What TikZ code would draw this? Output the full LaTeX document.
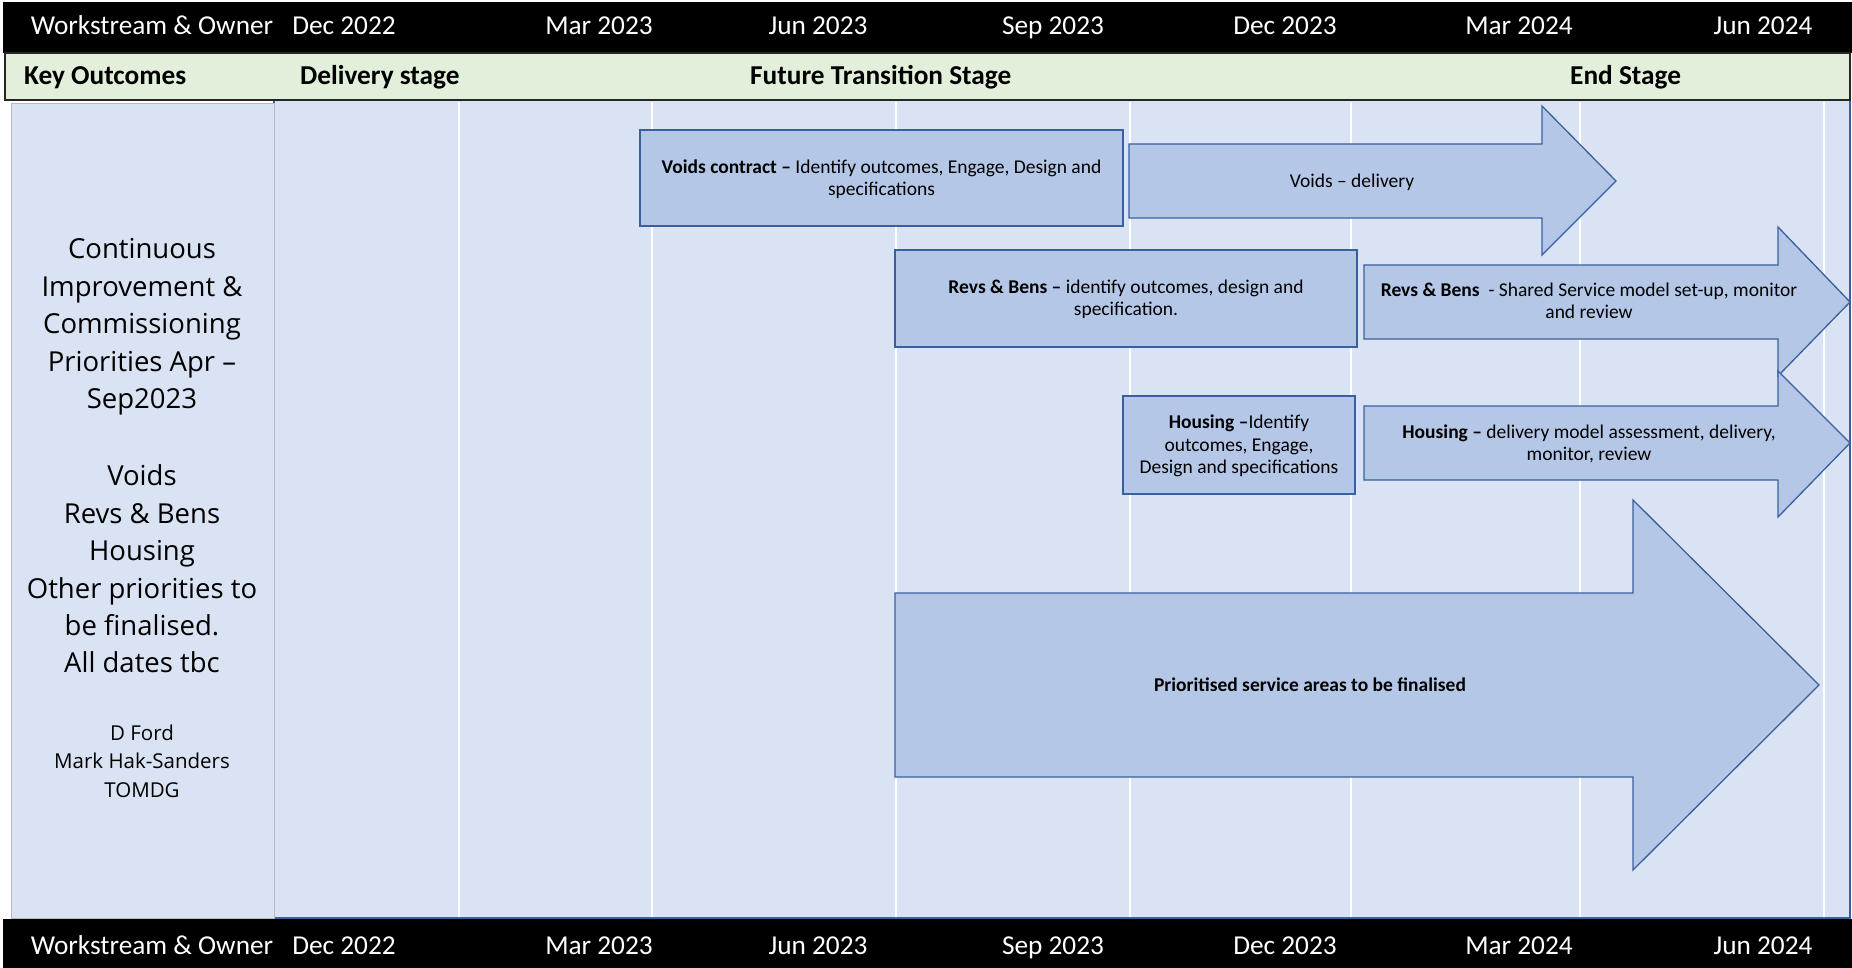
\documentclass[tikz,border=0pt]{standalone}
\usepackage{fontspec}
\setmainfont{Carlito}
\newfontfamily\osans{Open Sans}
\definecolor{bgblue}{HTML}{DAE3F3}
\definecolor{boxfill}{HTML}{B4C7E7}
\definecolor{boxline}{HTML}{3A5F9E}
\definecolor{greenbar}{HTML}{E2EFDA}
\begin{document}
\begin{tikzpicture}[x=1pt,y=-1pt,
  boxst/.style={draw=boxline,fill=boxfill,line width=1.3pt,inner sep=0pt},
  arrst/.style={draw=boxline,fill=boxfill,line width=1.3pt,line join=miter},
  lbl/.style={font=\fontsize{19.5}{22.5}\selectfont,align=center,text=black},
  hdr/.style={font=\fontsize{27.3}{30}\selectfont,text=white,anchor=base},
  stagelbl/.style={font=\bfseries\fontsize{27.3}{30}\selectfont,anchor=base west,inner sep=0pt},
  gridln/.style={white,line width=1.8pt},
  leftbig/.style={font=\osans\fontsize{27.5}{37.4}\selectfont,align=center},
  leftsmall/.style={font=\osans\fontsize{20.5}{28.5}\selectfont,align=center},
]
\useasboundingbox (0,0) rectangle (1852,968);
\fill[white] (0,0) rectangle (1852,968);
% top bar
\fill[black] (3,2) rectangle (1852,53);
% green bar
\draw[fill=greenbar,draw=black!85,line width=1.6pt] (5,53) rectangle (1850,100);
% main area
\fill[bgblue] (274,101) rectangle (1850,919);
\foreach \gx in {459,652,896,1130,1351,1580,1824}
  \draw[gridln] (\gx,102) -- (\gx,918);
\draw[boxline,line width=1.5pt] (274,101) -- (274,918) -- (1850,918) -- (1850,101);
% left panel
\draw[fill=bgblue,draw=gray!55,line width=1pt] (11,104) rectangle (274,918);
% bottom bar
\fill[black] (3,919) rectangle (1852,968);

% header labels
\foreach \nm/\hx/\txt in {a/152/Workstream \& Owner,b/344/Dec 2022,c/599/Mar 2023,d/818/Jun 2023,e/1053/Sep 2023,f/1285/Dec 2023,g/1519/Mar 2024,h/1763/Jun 2024}{
  \node[hdr] (top\nm) at (\hx,35) {\txt};
  \node[hdr] (bot\nm) at (\hx,954) {\txt};
}
% stage labels
\node[stagelbl] (keyout) at (24,85) {Key Outcomes};
\node[stagelbl] (delst) at (300,85) {Delivery stage};
\node[stagelbl] (futst) at (750,85) {Future Transition Stage};
\node[stagelbl] (endst) at (1570,85) {End Stage};

% left panel text
\node[leftbig] (lp1) at (142,327) {Continuous\\Improvement \&\\Commissioning\\Priorities Apr –\\Sep2023};
\node[leftbig] (lp2) at (142,569) {Voids\\Revs \& Bens\\Housing\\Other priorities to\\be finalised.\\All dates tbc};
\node[leftsmall] (lp3) at (142,761) {D Ford\\Mark Hak-Sanders\\TOMDG};

% boxes
\node[boxst,minimum width=483pt,minimum height=96pt] (voidsbox) at (881.5,178) {};
\node[lbl] (voidstxt) at (881.5,179) {\textbf{Voids contract –} Identify outcomes, Engage, Design and\\specifications};
\node[boxst,minimum width=462pt,minimum height=97pt] (revsbox) at (1126,298.5) {};
\node[lbl] (revstxt) at (1126,299.5) {\textbf{Revs \& Bens –} identify outcomes, design and\\specification.};
\node[boxst,minimum width=232pt,minimum height=98pt] (housbox) at (1239,445) {};
\node[lbl] (houstxt) at (1239,446) {\textbf{Housing –}Identify\\outcomes, Engage,\\Design and specifications};

% arrows
\draw[arrst] (1129,144) -- (1542,144) -- (1542,106) -- (1616,181) -- (1542,255) -- (1542,218) -- (1129,218) -- cycle;
\node[lbl] (voidsdel) at (1352,182) {Voids – delivery};
\draw[arrst] (1364,265) -- (1778,265) -- (1778,227) -- (1850,302) -- (1778,376) -- (1778,339) -- (1364,339) -- cycle;
\node[lbl] (revsdel) at (1589,301) {\textbf{Revs \& Bens}\ \ - Shared Service model set-up, monitor\\and review};
\draw[arrst] (1364,406) -- (1778,406) -- (1778,371) -- (1850,443) -- (1778,517) -- (1778,480) -- (1364,480) -- cycle;
\node[lbl] (housdel) at (1589,444) {\textbf{Housing –} delivery model assessment, delivery,\\monitor, review};
\draw[arrst] (895,593) -- (1633,593) -- (1633,500) -- (1819,685) -- (1633,870) -- (1633,777) -- (895,777) -- cycle;
\node[lbl,font=\bfseries\fontsize{19.5}{22.5}\selectfont] (prio) at (1310,685) {Prioritised service areas to be finalised};
\end{tikzpicture}
\end{document}
